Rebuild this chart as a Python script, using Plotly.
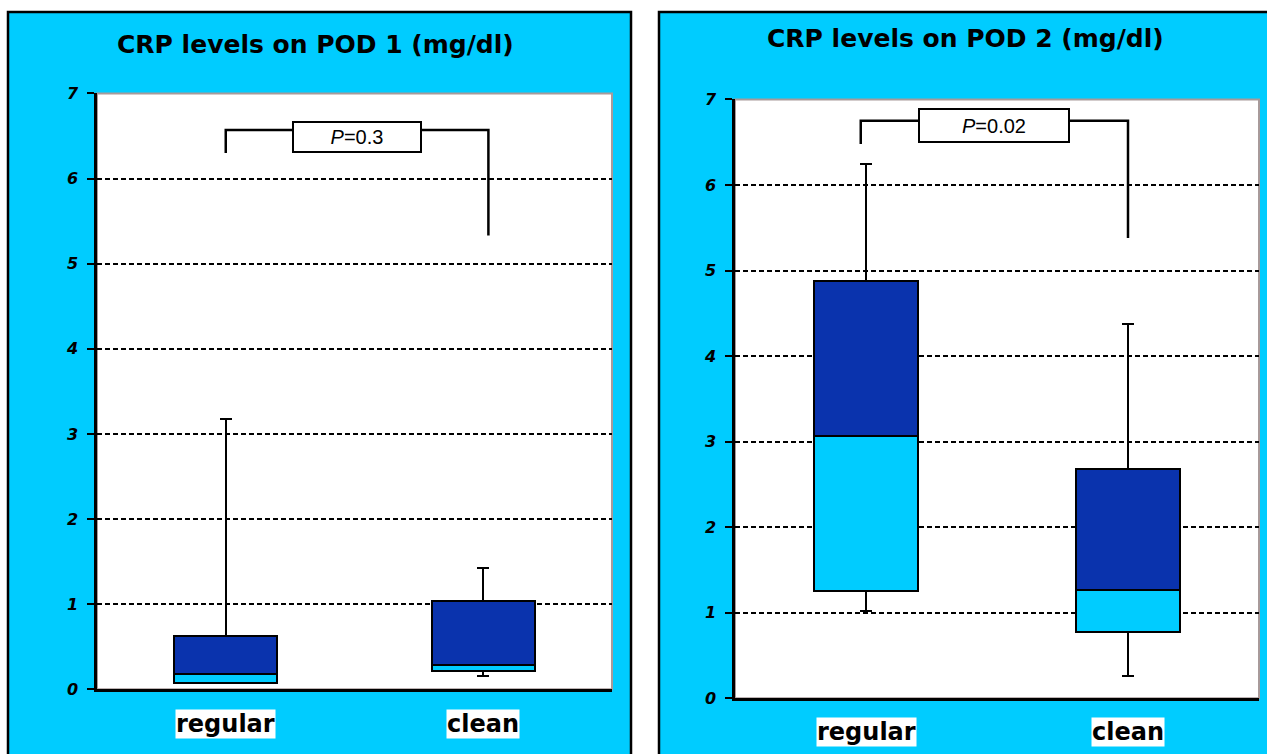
import plotly.graph_objects as go

# CRP box summaries (mg/dl) per group and post-operative day
categories = ["regular", "clean"]

pod1_min = [0.08, 0.16]
pod1_q1 = [0.08, 0.22]
pod1_median = [0.18, 0.29]
pod1_q3 = [0.63, 1.04]
pod1_max = [3.18, 1.43]

pod2_min = [1.02, 0.26]
pod2_q1 = [1.25, 0.78]
pod2_median = [3.07, 1.27]
pod2_q3 = [4.88, 2.68]
pod2_max = [6.24, 4.37]

titles = ["CRP levels on POD 1 (mg/dl)", "CRP levels on POD 2 (mg/dl)"]
p_labels = ["0.3", "0.02"]
y_ticks = [0, 1, 2, 3, 4, 5, 6, 7]

# significance bracket: [left foot, top, right foot] heights and x ends
bracket1_y = [6.30, 6.57, 5.33]
bracket2_y = [6.48, 6.75, 5.38]
bracket1_x = [0.0, 1.02]
bracket2_x = [-0.02, 1.0]
pbox1_pos = [0.51, 6.49]
pbox2_pos = [0.487, 6.70]

W, H = 1267, 754
CYAN = "#00CCFF"
NAVY = "#0A33AD"

# vertical placement helper: pixel row -> paper fraction
Y_OFF, Y_SPAN = 7.0, 740.0


def px_x(v):
    return v / W


def px_y(v):
    return 1 - (v - Y_OFF) / Y_SPAN


fig = go.Figure()


def add_box(xa, ya, mn, q1, med, q3, mx):
    # invisible base up to Q1, carries the lower whisker
    fig.add_trace(go.Bar(
        x=categories, y=q1, xaxis=xa, yaxis=ya, width=0.4,
        marker=dict(color="rgba(0,0,0,0)", line=dict(width=0)),
        error_y=dict(type="data", symmetric=False,
                     array=[0, 0], arrayminus=[a - b for a, b in zip(q1, mn)],
                     color="black", thickness=2, width=6),
        showlegend=False, hoverinfo="skip"))
    # Q1 -> median segment
    fig.add_trace(go.Bar(
        x=categories, y=[m - a for m, a in zip(med, q1)], xaxis=xa, yaxis=ya,
        width=0.4, marker=dict(color=CYAN, line=dict(color="black", width=2)),
        showlegend=False, hoverinfo="skip"))
    # median -> Q3 segment, carries the upper whisker
    fig.add_trace(go.Bar(
        x=categories, y=[c - m for c, m in zip(q3, med)], xaxis=xa, yaxis=ya,
        width=0.4, marker=dict(color=NAVY, line=dict(color="black", width=2)),
        error_y=dict(type="data", symmetric=False,
                     array=[b - c for b, c in zip(mx, q3)], arrayminus=[0, 0],
                     color="black", thickness=2, width=6),
        showlegend=False, hoverinfo="skip"))


add_box("x", "y", pod1_min, pod1_q1, pod1_median, pod1_q3, pod1_max)
add_box("x2", "y2", pod2_min, pod2_q1, pod2_median, pod2_q3, pod2_max)

tick_font = dict(family="DejaVu Sans", size=16, color="black", weight="bold", style="italic")

yaxis_common = dict(
    range=[0, 7], tickvals=y_ticks, ticktext=[str(t) for t in y_ticks],
    showline=True, linecolor="black", linewidth=2.5,
    ticks="outside", ticklen=7, tickwidth=2, tickcolor="black",
    showgrid=True, gridcolor="black", gridwidth=1.5, griddash="5px,3px",
    zeroline=False, tickfont=tick_font, ticklabelstandoff=6, fixedrange=True)
xaxis_common = dict(
    showline=True, linecolor="black", linewidth=2.5, showticklabels=False,
    ticks="", showgrid=False, zeroline=False, fixedrange=True)

layout = dict(
    width=W, height=H, margin=dict(l=0, r=0, t=0, b=0),
    paper_bgcolor="white", plot_bgcolor="white", barmode="stack",
    showlegend=False,
    xaxis=dict(domain=[px_x(97), px_x(612)], anchor="y", **xaxis_common),
    yaxis=dict(domain=[px_y(692), px_y(92)], anchor="x", **yaxis_common),
    xaxis2=dict(domain=[px_x(735), px_x(1259)], anchor="y2", **xaxis_common),
    yaxis2=dict(domain=[px_y(701), px_y(98)], anchor="x2", **yaxis_common),
)
fig.update_layout(**layout)

shapes = []
# cyan panels
for x0, x1 in [(8, 631), (659, 1290)]:
    shapes.append(dict(type="rect", xref="paper", yref="paper", layer="below",
                       x0=px_x(x0), x1=px_x(x1), y0=-0.05, y1=px_y(10),
                       fillcolor=CYAN, line=dict(color="black", width=2.5)))
# white plot areas with thin grey frame
for xr, yr in [("x domain", "y domain"), ("x2 domain", "y2 domain")]:
    shapes.append(dict(type="rect", xref=xr, yref=yr, layer="below",
                       x0=0, x1=1, y0=0, y1=1, fillcolor="white",
                       line=dict(color="#a89a9a", width=2)))
# significance brackets
for xr, yr, bx, by in [("x", "y", bracket1_x, bracket1_y), ("x2", "y2", bracket2_x, bracket2_y)]:
    path = (f"M {bx[0]},{by[0]} L {bx[0]},{by[1]} "
            f"L {bx[1]},{by[1]} L {bx[1]},{by[2]}")
    shapes.append(dict(type="path", xref=xr, yref=yr, path=path, layer="above",
                       line=dict(color="black", width=2.5)))
fig.update_layout(shapes=shapes)

annotations = []
title_font = dict(family="DejaVu Sans", size=25, color="black", weight="bold")
for t, (cx, cy) in zip(titles, [(315, 43), (965, 37)]):
    annotations.append(dict(text=t, xref="paper", yref="paper", x=px_x(cx), y=px_y(cy),
                            xanchor="center", yanchor="middle", showarrow=False,
                            font=title_font))

# p-value boxes
for p, (xr, yr), pos, (w, h) in zip(p_labels, [("x", "y"), ("x2", "y2")],
                                    [pbox1_pos, pbox2_pos], [(124, 26), (146, 29)]):
    annotations.append(dict(text=f"<i>P</i>={p}", xref=xr, yref=yr, x=pos[0], y=pos[1],
                            showarrow=False, bgcolor="white", bordercolor="black",
                            borderwidth=2, borderpad=1, width=w, height=h,
                            font=dict(family="Liberation Sans, Arial", size=20, color="black")))

# category labels on white tags
cat_font = dict(family="DejaVu Sans", size=24, color="black", weight="bold")
for xr, ypix in [("x", 727), ("x2", 735)]:
    for c in categories:
        annotations.append(dict(text=c, xref=xr, yref="paper", x=c, y=px_y(ypix),
                                xanchor="center", yanchor="middle", showarrow=False,
                                bgcolor="white", borderpad=0, font=cat_font))
fig.update_layout(annotations=annotations)

fig.write_html("out.html")
